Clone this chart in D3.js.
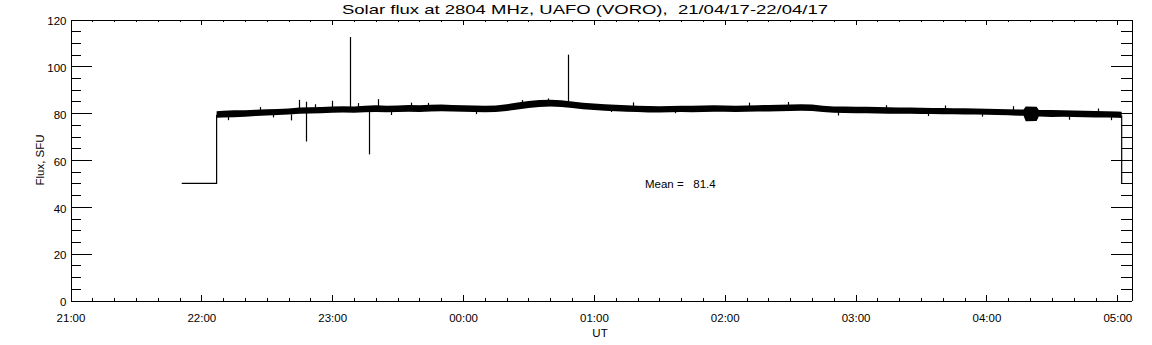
<!DOCTYPE html>
<html><head><meta charset="utf-8">
<script src="https://cdn.jsdelivr.net/npm/d3@7"></script>
<style>
html,body{margin:0;padding:0;background:#fff;}
svg{display:block;}
text{font-family:"Liberation Sans",sans-serif;fill:#000;}
</style></head>
<body>
<script>
// ---- data ----
const title = "Solar flux at 2804 MHz, UAFO (VORO),  21/04/17-22/04/17";
const yLabel = "Flux, SFU";
const xLabel = "UT";
const meanText = "Mean =   81.4";
const xTickLabels = ["21:00","22:00","23:00","00:00","01:00","02:00","03:00","04:00","05:00"];
const yTickValues = [0,20,40,60,80,100,120];

// flat part before the receiver came on, and the final drop
const preTimes  = ["21:51","22:07","22:07"];
const preValues = [50, 50, 79.3];
const endTimes  = ["05:02","05:02"];
const endValues = [79.0, 50];

// noise band envelope (low / high) of the flux record
const bandTimes = ["22:07","22:10","22:15","22:20","22:25","22:30","22:35","22:40","22:45","22:50","22:55",
  "23:00","23:05","23:10","23:15","23:20","23:25","23:30","23:35","23:40","23:45","23:50","23:55",
  "00:00","00:05","00:10","00:15","00:20","00:25","00:30","00:35","00:40","00:45","00:50","00:55",
  "01:00","01:05","01:10","01:15","01:20","01:25","01:30","01:35","01:40","01:45","01:50","01:55",
  "02:00","02:05","02:10","02:15","02:20","02:25","02:30","02:35","02:40","02:45","02:50","02:55",
  "03:00","03:05","03:10","03:15","03:20","03:25","03:30","03:35","03:40","03:45","03:50","03:55",
  "04:00","04:05","04:10","04:15","04:17","04:18","04:23","04:24","04:30","04:35","04:40","04:45","04:50","04:55",
  "05:00","05:02"];
const bandLow = [78.0,78.2,78.3,78.5,78.8,79.0,79.2,79.4,79.7,79.9,80.0,
  80.2,80.3,80.2,80.4,80.5,80.4,80.5,80.6,80.5,80.7,80.8,80.7,
  80.6,80.5,80.4,80.5,80.9,81.6,82.2,82.6,82.8,82.6,82.2,81.7,
  81.3,81.0,80.8,80.6,80.5,80.3,80.3,80.4,80.5,80.4,80.5,80.6,
  80.6,80.5,80.6,80.7,80.7,80.8,80.9,81.0,80.9,80.5,80.2,80.1,
  80.0,80.0,79.9,79.8,79.7,79.7,79.6,79.6,79.5,79.5,79.4,79.4,
  79.3,79.2,79.1,78.9,78.9,76.6,76.7,78.6,78.4,78.5,78.4,78.3,78.2,78.1,
  78.0,77.9];
const bandHigh = [80.8,81.0,81.2,81.2,81.5,81.7,81.8,82.0,82.4,82.5,82.6,
  82.8,83.0,82.9,83.2,83.4,83.2,83.3,83.5,83.4,83.6,83.7,83.5,
  83.4,83.3,83.2,83.3,83.8,84.6,85.2,85.6,85.7,85.5,85.0,84.5,
  84.1,83.8,83.6,83.4,83.2,83.1,83.0,83.1,83.2,83.2,83.3,83.4,
  83.3,83.2,83.3,83.4,83.5,83.6,83.7,83.8,83.7,83.2,82.9,82.8,
  82.7,82.7,82.6,82.5,82.4,82.4,82.3,82.2,82.2,82.1,82.1,82.0,
  81.9,81.8,81.7,81.6,81.6,82.8,82.7,81.4,81.3,81.2,81.1,81.0,80.9,80.8,
  80.7,80.6];

// isolated spikes: time, base level, extreme value
const spikeTimes  = ["22:41","22:45","22:48","22:48","23:00","23:08","23:17","23:21","00:48",
  "22:12","22:27","22:33","22:52","23:12","23:27","23:36","23:44","00:06","00:27","00:39","01:08","01:18","01:37",
  "02:11","02:29","02:52","03:14","03:33","03:41","03:58","04:12","04:38","04:51","04:57"];
const spikeBase   = [79.5, 81.0, 81.0, 81.0, 81.5, 81.5, 81.5, 81.8, 84.0,
  79.5, 80.0, 80.5, 81.0, 81.5, 81.5, 82.0, 82.0, 81.8, 83.0, 84.0, 82.5, 82.0, 81.8,
  82.0, 82.2, 81.5, 81.0, 80.8, 80.8, 80.6, 80.2, 79.6, 79.4, 79.3];
const spikeValues = [76.9, 85.7, 84.9, 67.9, 85.3, 112.5, 62.4, 86.0, 105.0,
  77.0, 82.6, 78.2, 83.8, 84.3, 79.2, 84.5, 84.4, 79.6, 85.6, 86.3, 80.5, 84.6, 80.0,
  84.5, 84.8, 79.0, 83.4, 78.8, 83.3, 78.5, 83.0, 77.2, 82.0, 77.0];

// ---- layout ----
const W = 1152, H = 345;
const L = 70.5, R = 1131.5, T = 19.5, B = 300.5;
const toMin = s => { const [h,m] = s.split(":").map(Number); let v = (h-21)*60 + m; if (h < 21) v += 1440; return v; };

const x = d3.scaleLinear().domain([0, 486.5]).range([L, R]);
const y = d3.scaleLinear().domain([0, 120]).range([B, T]);

const svg = d3.select("body").append("svg").attr("width", W).attr("height", H);

const majorX = xTickLabels.map(toMin);
const minorX = d3.range(0, 487, 10).filter(v => v % 60 !== 0);
const minorY = d3.range(0, 121, 5).filter(v => v % 20 !== 0);
const fmtX = v => xTickLabels[majorX.indexOf(v)];

function styleAxis(g){
  g.selectAll("path,line").attr("stroke","#000").attr("stroke-width",1).attr("shape-rendering","crispEdges");
  g.selectAll("text").attr("font-size","11.5px").attr("font-family","Liberation Sans, sans-serif").attr("fill","#000");
}

svg.append("g").attr("transform",`translate(0,${B})`)
  .call(d3.axisBottom(x).tickValues(majorX).tickFormat(fmtX).tickSize(-5.5).tickSizeOuter(0).tickPadding(13))
  .call(styleAxis);
svg.append("g").attr("transform",`translate(0,${B})`)
  .call(d3.axisBottom(x).tickValues(minorX).tickFormat("").tickSize(-2.8).tickSizeOuter(0)).call(styleAxis);
svg.append("g").attr("transform",`translate(0,${T})`)
  .call(d3.axisTop(x).tickValues(majorX).tickFormat("").tickSize(-5.5).tickSizeOuter(0)).call(styleAxis);
svg.append("g").attr("transform",`translate(0,${T})`)
  .call(d3.axisTop(x).tickValues(minorX).tickFormat("").tickSize(-2.8).tickSizeOuter(0)).call(styleAxis);

svg.append("g").attr("transform",`translate(${L},0)`)
  .call(d3.axisLeft(y).tickValues(yTickValues).tickSize(-21).tickSizeOuter(0))
  .call(styleAxis).call(g=>g.selectAll("text").attr("x",-4).attr("dy","0.45em"));
svg.append("g").attr("transform",`translate(${L},0)`)
  .call(d3.axisLeft(y).tickValues(minorY).tickFormat("").tickSize(-10.5).tickSizeOuter(0)).call(styleAxis);
svg.append("g").attr("transform",`translate(${R},0)`)
  .call(d3.axisRight(y).tickValues(yTickValues).tickFormat("").tickSize(-21).tickSizeOuter(0)).call(styleAxis);
svg.append("g").attr("transform",`translate(${R},0)`)
  .call(d3.axisRight(y).tickValues(minorY).tickFormat("").tickSize(-10.5).tickSizeOuter(0)).call(styleAxis);

// data
const line = d3.line().x(d => x(toMin(d[0]))).y(d => y(d[1]));
svg.append("path").datum(d3.zip(preTimes, preValues)).attr("d", line)
  .attr("fill","none").attr("stroke","#000").attr("stroke-width",1.2);
svg.append("path").datum(d3.zip(endTimes, endValues)).attr("d", line)
  .attr("fill","none").attr("stroke","#000").attr("stroke-width",1.2);

const area = d3.area().x(d => x(toMin(d[0]))).y0(d => y(d[1])).y1(d => y(d[2]));
svg.append("path").datum(d3.zip(bandTimes, bandLow, bandHigh)).attr("d", area)
  .attr("fill","#000").attr("stroke","none");

svg.append("g").selectAll("line").data(d3.zip(spikeTimes, spikeBase, spikeValues)).join("line")
  .attr("x1", d => Math.round(x(toMin(d[0])))+0.5).attr("x2", d => Math.round(x(toMin(d[0])))+0.5)
  .attr("y1", d => y(d[1])).attr("y2", d => y(d[2]))
  .attr("stroke","#000").attr("stroke-width",1.2);

// texts
svg.append("text").attr("x", (L+R)/2 - 16).attr("y", 14).attr("text-anchor","middle")
  .attr("xml:space","preserve").style("white-space","pre")
  .attr("font-size","13px")
  .attr("textLength", 486).attr("lengthAdjust","spacingAndGlyphs").text(title);
svg.append("text").attr("transform",`translate(44,160) rotate(-90)`).attr("text-anchor","middle")
  .attr("font-size","11.5px").text(yLabel);
svg.append("text").attr("x", 600).attr("y", 337).attr("text-anchor","middle")
  .attr("font-size","11.5px").text(xLabel);
svg.append("text").attr("x", 645).attr("y", 188).attr("xml:space","preserve").style("white-space","pre")
  .attr("font-size","11.5px").text(meanText);
</script>
</body></html>
